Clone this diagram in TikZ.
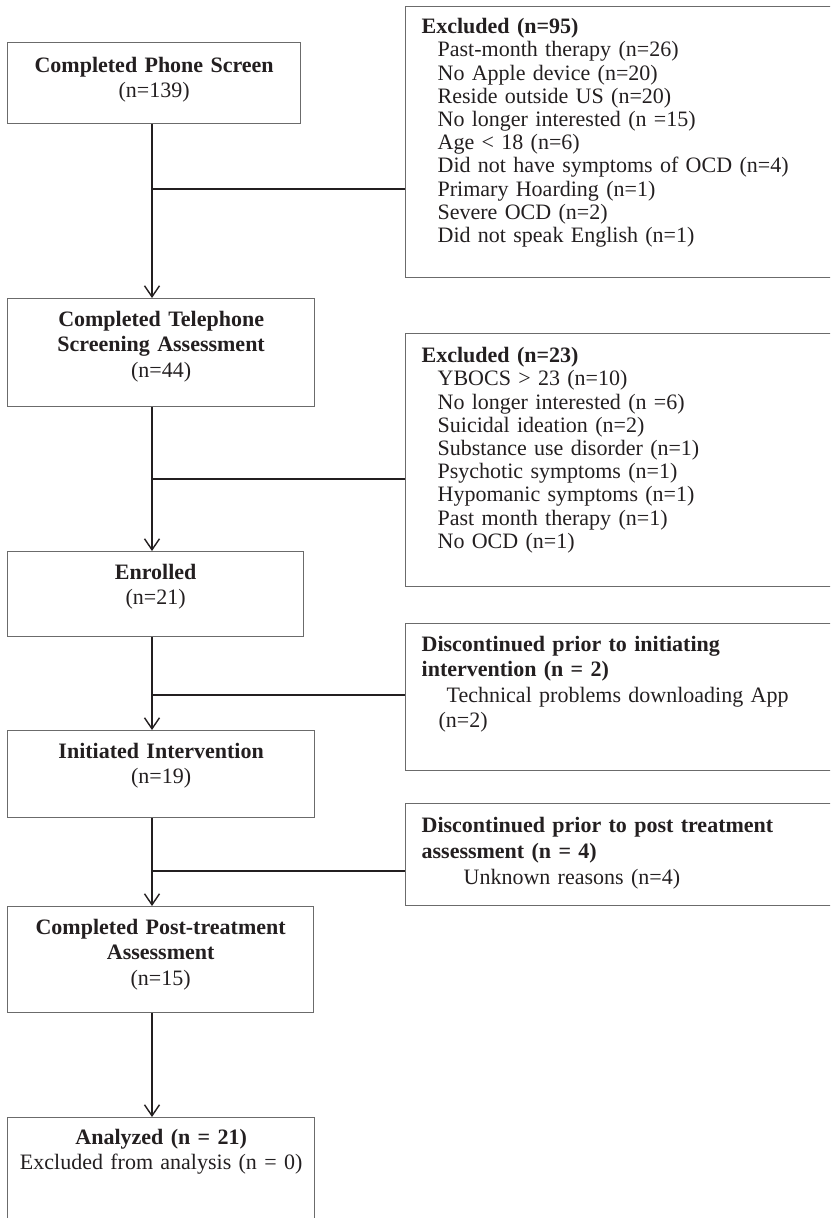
\documentclass[tikz,border=0pt]{standalone}
\usepackage{fontspec}
\setmainfont{Liberation Serif}
\usepackage{tikz}
\usetikzlibrary{arrows.meta,calc,positioning}
\definecolor{ink}{HTML}{231F20}
\definecolor{frame}{gray}{0.42}

\tikzset{
  stage/.style={draw=frame, line width=1.3pt, anchor=north west, inner xsep=0pt,
    inner ysep=0pt, text width=#1, align=center, text=ink,
    font=\fontsize{22}{25.3}\selectfont},
  reasons/.style={draw=frame, line width=1.3pt, anchor=north west, inner xsep=16pt,
    inner ysep=0pt, text width=440pt, align=left, text=ink,
    font=\fontsize{22}{23.2}\selectfont},
  flow/.style={draw=ink, line width=2pt},
}

\begin{document}
\begin{tikzpicture}[x=1pt,y=-1pt,>={Straight Barb[length=11pt,width=15pt,line width=1.4pt]}]
  \useasboundingbox (0,0) rectangle (830,1218);
  \clip (0,0) rectangle (830,1218);
  % main stages
  \node[stage=293pt, text height=30pt, text depth=51pt] (screen) at (7,42)
    {\textbf{Completed Phone Screen}\\(n=139)};
  \node[stage=307pt, text height=28pt, text depth=80pt] (phone) at (7,298)
    {\textbf{Completed Telephone}\\\textbf{Screening Assessment}\\(n=44)};
  \node[stage=296pt, text height=28pt, text depth=57pt] (enrol) at (7,551)
    {\textbf{Enrolled}\\(n=21)};
  \node[stage=307pt, text height=28pt, text depth=59pt] (start) at (7,730)
    {\textbf{Initiated Intervention}\\(n=19)};
  \node[stage=306pt, text height=28pt, text depth=78pt] (post) at (7,906)
    {\textbf{Completed Post-treatment}\\\textbf{Assessment}\\(n=15)};
  \node[stage=307pt, text height=27pt, text depth=110pt] (final) at (7,1117)
    {\textbf{Analyzed (n = 21)}\\Excluded from analysis (n = 0)};
  % exclusion boxes
  \node[reasons, text height=27pt, text depth=244pt] (ex1) at (405,6)
    {\textbf{Excluded (n=95)}\\
     \hspace*{16pt}Past-month therapy (n=26)\\
     \hspace*{16pt}No Apple device (n=20)\\
     \hspace*{16pt}Reside outside US (n=20)\\
     \hspace*{16pt}No longer interested (n =15)\\
     \hspace*{16pt}Age < 18 (n=6)\\
     \hspace*{16pt}Did not have symptoms of OCD (n=4)\\
     \hspace*{16pt}Primary Hoarding (n=1)\\
     \hspace*{16pt}Severe OCD (n=2)\\
     \hspace*{16pt}Did not speak English (n=1)};
  \node[reasons, text height=29pt, text depth=224pt] (ex2) at (405,333)
    {\textbf{Excluded (n=23)}\\
     \hspace*{16pt}YBOCS > 23 (n=10)\\
     \hspace*{16pt}No longer interested (n =6)\\
     \hspace*{16pt}Suicidal ideation (n=2)\\
     \hspace*{16pt}Substance use disorder (n=1)\\
     \hspace*{16pt}Psychotic symptoms (n=1)\\
     \hspace*{16pt}Hypomanic symptoms (n=1)\\
     \hspace*{16pt}Past month therapy (n=1)\\
     \hspace*{16pt}No OCD (n=1)};
  \node[reasons, text height=28pt, text depth=119pt, font=\fontsize{22}{25.3}\selectfont] (drop1) at (405,623)
    {\textbf{Discontinued prior to initiating}\\
     \textbf{intervention (n = 2)}\\
     \hspace*{25pt}Technical problems downloading App\\
     \hspace*{17pt}(n=2)};
  \node[reasons, text height=29pt, text depth=73pt, font=\fontsize{22}{25.8}\selectfont] (drop2) at (405,803)
    {\textbf{Discontinued prior to post treatment}\\
     \textbf{assessment (n = 4)}\\
     \hspace*{42pt}Unknown reasons (n=4)};
  % connectors
  \coordinate (spine) at (152,0);
  \foreach \a/\b in {screen/phone, phone/enrol, enrol/start, start/post, post/final}
    \draw[flow,->] (\a.south -| spine) -- (\b.north -| spine);
  \coordinate (j1) at (152,189);
  \coordinate (j2) at (152,479);
  \coordinate (j3) at (152,695);
  \coordinate (j4) at (152,871);
  \draw[flow] (j1) -- (j1 -| ex1.west);
  \draw[flow] (j2) -- (j2 -| ex2.west);
  \draw[flow] (j3) -- (j3 -| drop1.west);
  \draw[flow] (j4) -- (j4 -| drop2.west);
\end{tikzpicture}
\end{document}
